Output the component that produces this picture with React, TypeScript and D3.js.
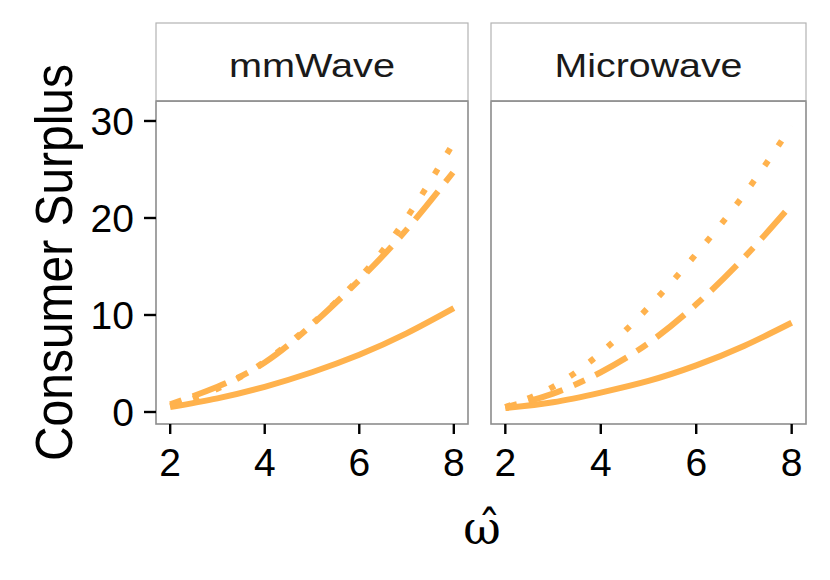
import React, { useRef, useEffect } from "react";
import * as d3 from "d3";

// x values (omega hat)
const omega = [2, 3, 4, 5, 6, 7, 8];

// mmWave panel
const mmWaveSolid = [0.5, 1.4, 2.6, 4.1, 5.9, 8.1, 10.7];
const mmWaveTwodash = [0.8, 2.6, 5.1, 9.0, 13.6, 18.8, 24.8];
const mmWaveDotted = [0.6, 2.4, 5.2, 9.1, 13.8, 20.0, 27.8];

// Microwave panel
const microSolid = [0.4, 1.0, 2.0, 3.2, 4.8, 6.8, 9.2];
const microTwodash = [0.5, 1.9, 4.1, 7.1, 11.1, 15.9, 21.4];
const microDotted = [0.5, 2.6, 6.1, 10.8, 16.3, 22.4, 29.5];

const panelNames = ["mmWave", "Microwave"];
const xTicks = [2, 4, 6, 8];
const yTicks = [0, 10, 20, 30];

const W = 830;
const H = 580;
const FONT = "'Liberation Sans', Arial, Helvetica, sans-serif";
const ORANGE = "#ffb24d";

const App = () => {
  const svgRef = useRef(null);

  useEffect(() => {
    const svg = d3.select(svgRef.current);
    svg.selectAll("*").remove();

    const panels = [
      {
        name: panelNames[0],
        left: 156,
        right: 468,
        labelWidth: 166,
        series: [mmWaveSolid, mmWaveTwodash, mmWaveDotted],
      },
      {
        name: panelNames[1],
        left: 491,
        right: 806,
        labelWidth: 188,
        series: [microSolid, microTwodash, microDotted],
      },
    ];
    const dashes = [null, "12,12,36,12", "6,18"];

    const stripTop = 23;
    const top = 101;
    const bottom = 424;

    const y = d3.scaleLinear().domain([-1.237, 32.06]).range([bottom, top]);

    panels.forEach((p, pi) => {
      const x = d3.scaleLinear().domain([1.7, 8.3]).range([p.left, p.right]);
      const g = svg.append("g");

      // panel background
      g.append("rect")
        .attr("x", p.left)
        .attr("y", top)
        .attr("width", p.right - p.left)
        .attr("height", bottom - top)
        .attr("fill", "white");

      // lines
      const line = d3
        .line()
        .x((d) => x(d[0]))
        .y((d) => y(d[1]))
        .curve(d3.curveNatural);

      p.series.forEach((vals, si) => {
        g.append("path")
          .datum(omega.map((o, i) => [o, vals[i]]))
          .attr("d", line)
          .attr("fill", "none")
          .attr("stroke", ORANGE)
          .attr("stroke-width", 6)
          .attr("stroke-linecap", "butt")
          .attr("stroke-dasharray", dashes[si]);
      });

      // panel border
      g.append("rect")
        .attr("x", p.left)
        .attr("y", top)
        .attr("width", p.right - p.left)
        .attr("height", bottom - top)
        .attr("fill", "none")
        .attr("stroke", "#8c8c8c")
        .attr("stroke-width", 1.6);

      // strip
      g.append("rect")
        .attr("x", p.left)
        .attr("y", stripTop)
        .attr("width", p.right - p.left)
        .attr("height", top - stripTop)
        .attr("fill", "white")
        .attr("stroke", "#b3b3b3")
        .attr("stroke-width", 1.2);
      g.append("line")
        .attr("x1", p.left)
        .attr("x2", p.right)
        .attr("y1", top)
        .attr("y2", top)
        .attr("stroke", "#8c8c8c")
        .attr("stroke-width", 1.6);
      g.append("text")
        .attr("x", (p.left + p.right) / 2)
        .attr("y", 77)
        .attr("text-anchor", "middle")
        .attr("font-family", FONT)
        .attr("font-size", 34)
        .attr("fill", "#1a1a1a")
        .attr("textLength", p.labelWidth)
        .attr("lengthAdjust", "spacingAndGlyphs")
        .text(p.name);

      // x axis
      const xAxis = g.append("g");
      xTicks.forEach((t) => {
        xAxis
          .append("line")
          .attr("x1", x(t))
          .attr("x2", x(t))
          .attr("y1", bottom)
          .attr("y2", bottom + 10)
          .attr("stroke", "black")
          .attr("stroke-width", 2.4);
        xAxis
          .append("text")
          .attr("x", x(t))
          .attr("y", 476)
          .attr("text-anchor", "middle")
          .attr("font-family", FONT)
          .attr("font-size", 39)
          .text(t);
      });

      // y axis on first panel only
      if (pi === 0) {
        const yAxis = g.append("g");
        yTicks.forEach((t) => {
          yAxis
            .append("line")
            .attr("x1", p.left - 12)
            .attr("x2", p.left)
            .attr("y1", y(t))
            .attr("y2", y(t))
            .attr("stroke", "black")
            .attr("stroke-width", 2.4);
          yAxis
            .append("text")
            .attr("x", 134)
            .attr("y", y(t))
            .attr("dy", "0.36em")
            .attr("text-anchor", "end")
            .attr("font-family", FONT)
            .attr("font-size", 39)
            .text(t);
        });
      }
    });

    // y title
    svg
      .append("text")
      .attr("transform", `translate(72,${(top + bottom) / 2}) rotate(-90)`)
      .attr("text-anchor", "middle")
      .attr("font-family", FONT)
      .attr("font-size", 51)
      .attr("textLength", 397)
      .attr("lengthAdjust", "spacingAndGlyphs")
      .text("Consumer Surplus");

    // x title: omega with a combining hat
    svg
      .append("text")
      .attr("x", 482)
      .attr("y", 544)
      .attr("text-anchor", "middle")
      .attr("font-family", "'DejaVu Serif', serif")
      .attr("font-size", 46)
      .text("\u03C9\u0302");
  }, []);

  return (
    <svg
      ref={svgRef}
      width={W}
      height={H}
      style={{ position: "absolute", left: 0, top: 0, background: "white" }}
    />
  );
};

export default App;
